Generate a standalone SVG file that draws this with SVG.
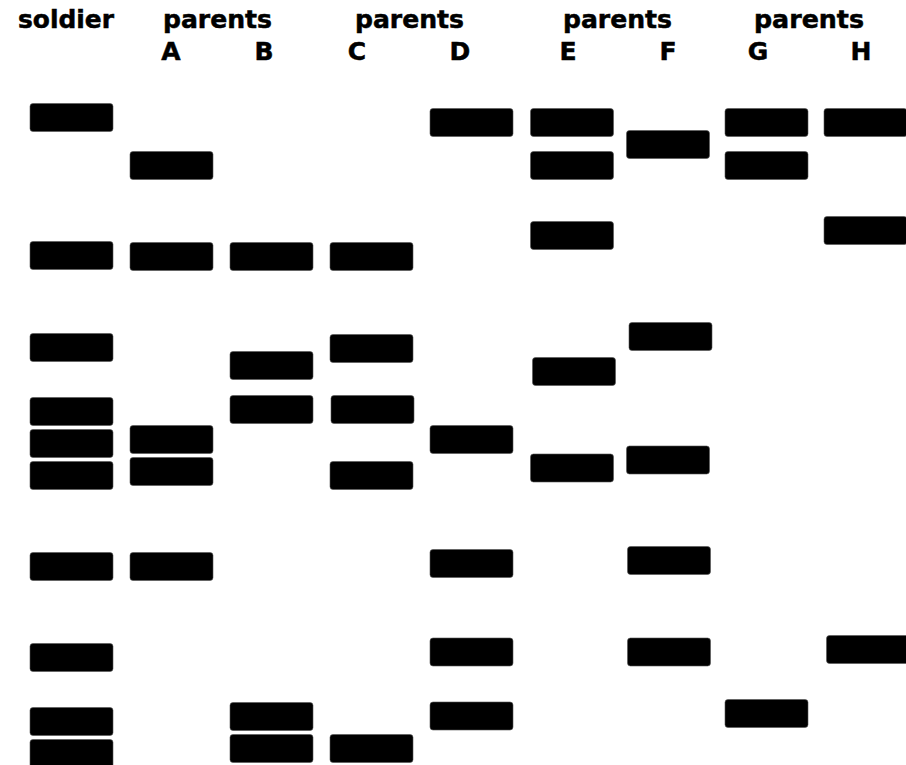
<svg xmlns="http://www.w3.org/2000/svg" width="906" height="765" viewBox="0 0 906 765">
<style>
.t{font-family:"DejaVu Sans",Verdana,sans-serif;font-weight:bold;font-size:24px;fill:#000;stroke:#000;stroke-width:0.5}
.l{font-family:"DejaVu Sans",Verdana,sans-serif;font-weight:bold;font-size:25px;fill:#000;stroke:#000;stroke-width:0.5}
.b{fill:#000;stroke:#555;stroke-width:0.6}
</style>
<rect width="906" height="765" fill="#fff"/>
<defs><rect id="band" width="83" height="28" rx="3" class="b"/></defs>
<g id="labels">
<text class="t" x="18" y="28" textLength="96" lengthAdjust="spacingAndGlyphs">soldier</text>
<text class="t" x="163" y="28" textLength="109" lengthAdjust="spacingAndGlyphs">parents</text>
<text class="t" x="355" y="28" textLength="109" lengthAdjust="spacingAndGlyphs">parents</text>
<text class="t" x="563" y="28" textLength="109" lengthAdjust="spacingAndGlyphs">parents</text>
<text class="t" x="754" y="28" textLength="110" lengthAdjust="spacingAndGlyphs">parents</text>
<text class="l" x="171" y="60" text-anchor="middle">A</text>
<text class="l" x="264" y="60" text-anchor="middle">B</text>
<text class="l" x="357" y="60" text-anchor="middle">C</text>
<text class="l" x="460" y="60" text-anchor="middle">D</text>
<text class="l" x="568" y="60" text-anchor="middle">E</text>
<text class="l" x="668" y="60" text-anchor="middle">F</text>
<text class="l" x="758" y="60" text-anchor="middle">G</text>
<text class="l" x="861" y="60" text-anchor="middle">H</text>
</g>
<g id="soldier">
<use href="#band" x="30" y="103.5"/>
<use href="#band" x="30" y="241.5"/>
<use href="#band" x="30" y="333.5"/>
<use href="#band" x="30" y="397.5"/>
<use href="#band" x="30" y="429.5"/>
<use href="#band" x="30" y="461.5"/>
<use href="#band" x="30" y="552.5"/>
<use href="#band" x="30" y="643.5"/>
<use href="#band" x="30" y="707.5"/>
<use href="#band" x="30" y="739.5"/>
</g>
<g id="parentA">
<use href="#band" x="130" y="151.5"/>
<use href="#band" x="130" y="242.5"/>
<use href="#band" x="130" y="425.5"/>
<use href="#band" x="130" y="457.5"/>
<use href="#band" x="130" y="552.5"/>
</g>
<g id="parentB">
<use href="#band" x="230" y="242.5"/>
<use href="#band" x="230" y="351.5"/>
<use href="#band" x="230" y="395.5"/>
<use href="#band" x="230" y="702.5"/>
<use href="#band" x="230" y="734.5"/>
</g>
<g id="parentC">
<use href="#band" x="330" y="242.5"/>
<use href="#band" x="330" y="334.5"/>
<use href="#band" x="331" y="395.5"/>
<use href="#band" x="330" y="461.5"/>
<use href="#band" x="330" y="734.5"/>
</g>
<g id="parentD">
<use href="#band" x="430" y="108.5"/>
<use href="#band" x="430" y="425.5"/>
<use href="#band" x="430" y="549.5"/>
<use href="#band" x="430" y="638"/>
<use href="#band" x="430" y="702"/>
</g>
<g id="parentE">
<use href="#band" x="530.5" y="108.5"/>
<use href="#band" x="530.5" y="151.5"/>
<use href="#band" x="530.5" y="221.5"/>
<use href="#band" x="532.5" y="357.5"/>
<use href="#band" x="530.5" y="454"/>
</g>
<g id="parentF">
<use href="#band" x="626.5" y="130.5"/>
<use href="#band" x="629" y="322.5"/>
<use href="#band" x="626.5" y="446"/>
<use href="#band" x="627.5" y="546.5"/>
<use href="#band" x="627.5" y="638"/>
</g>
<g id="parentG">
<use href="#band" x="725" y="108.5"/>
<use href="#band" x="725" y="151.5"/>
<use href="#band" x="725" y="699.5"/>
</g>
<g id="parentH">
<use href="#band" x="824" y="108.5"/>
<use href="#band" x="824" y="216.5"/>
<use href="#band" x="826.5" y="635.5"/>
</g>
<g id="connectors"/>
</svg>
